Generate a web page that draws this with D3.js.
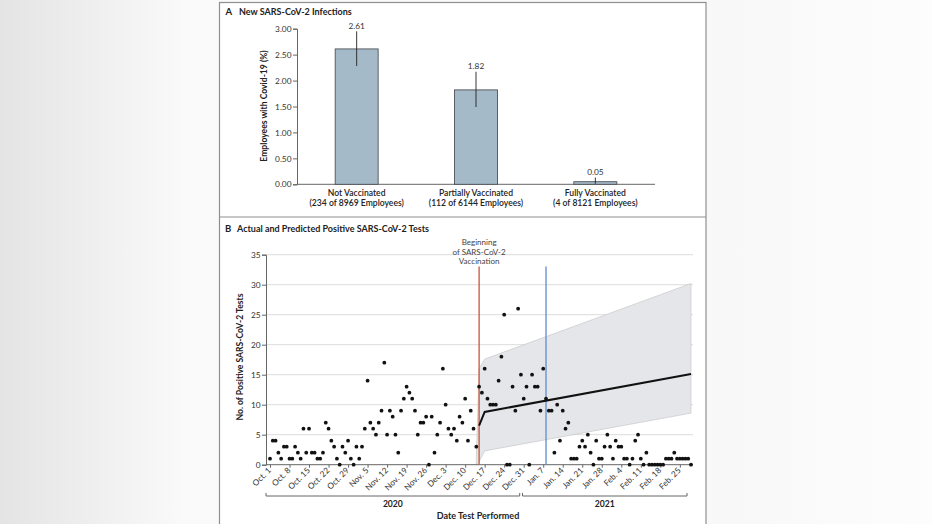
<!DOCTYPE html>
<html>
<head>
<meta charset="utf-8">
<script src="https://cdn.jsdelivr.net/npm/d3@7"></script>
<style>
  html, body { margin: 0; padding: 0; background: #fff; }
  svg { display: block; font-family: Lato, "Open Sans", sans-serif; }
</style>
</head>
<body>
<script>
// panel A
var categories = ["Not Vaccinated", "Partially Vaccinated", "Fully Vaccinated"];
var subLabels = ["(234 of 8969 Employees)", "(112 of 6144 Employees)", "(4 of 8121 Employees)"];
var rates = [2.61, 1.82, 0.05];
var ciLow = [2.28, 1.49, 0.01];
var ciHigh = [2.95, 2.17, 0.13];
var rateTicks = [0, 0.5, 1, 1.5, 2, 2.5, 3];

// panel B, one count per day from Oct. 1, 2020
var startDate = "2020-10-01";
var dailyPositives = [
  1, 4, 4, 2, 1, 3, 3, 1, 1, 3, 2, 1, 6, 2, 6, 2, 2, 1, 1, 2,
  7, 6, 4, 3, 1, 0, 3, 2, 4, 1, 0, 3, 1, 3, 6, 14, 7, 6, 5, 7,
  9, 17, 5, 9, 8, 5, 2, 9, 11, 13, 12, 11, 9, 5, 7, 7, 8, 0, 8, 2,
  5, 7, 16, 10, 6, 5, 6, 4, 8, 7, 11, 4, 9, 6, 3, 13, 12, 16, 11, 10,
  10, 10, 14, 18, 25, 0, 0, 13, 9, 26, 15, 11, 13, 0, 15, 13, 13, 9, 16, 11,
  9, 9, 2, 10, 4, 9, 6, 7, 1, 1, 1, 3, 4, 3, 5, 2, 0, 4, 1, 1,
  3, 5, 3, 1, 4, 3, 3, 1, 1, 0, 1, 4, 5, 1, 0, 2, 0, 0, 0, 0,
  0, 0, 1, 1, 1, 2, 1, 1, 1, 1, 1, 0
];
var countTicks = [0, 5, 10, 15, 20, 25, 30, 35];
var dateTicks = ["2020-10-01", "2020-10-08", "2020-10-15", "2020-10-22", "2020-10-29",
  "2020-11-05", "2020-11-12", "2020-11-19", "2020-11-26", "2020-12-03", "2020-12-10",
  "2020-12-17", "2020-12-24", "2020-12-31", "2021-01-07", "2021-01-14", "2021-01-21",
  "2021-01-28", "2021-02-04", "2021-02-11", "2021-02-18", "2021-02-25"];
var dateTickLabels = ["Oct. 1", "Oct. 8", "Oct. 15", "Oct. 22", "Oct. 29", "Nov. 5",
  "Nov. 12", "Nov. 19", "Nov. 26", "Dec. 3", "Dec. 10", "Dec. 17", "Dec. 24", "Dec. 31",
  "Jan. 7", "Jan. 14", "Jan. 21", "Jan. 28", "Feb. 4", "Feb. 11", "Feb. 18", "Feb. 25"];
var vaccStart = "2020-12-15";
var fullVaccDate = "2021-01-08";
var predDates = ["2020-12-15", "2020-12-17", "2021-03-01"];
var predicted = [6.5, 8.8, 15.1];
var bandDates = ["2020-12-14", "2020-12-15", "2020-12-17", "2021-03-01"];
var bandLow = [0, 0.5, 2.3, 8.6];
var bandHigh = [1, 16, 17.6, 30.2];
var years = ["2020", "2021"];
var yearSpans = [["2020-10-01", "2020-12-31"], ["2021-01-01", "2021-03-01"]];

var W = 932, H = 524;
var parse = d3.utcParse("%Y-%m-%d");

var svg = d3.select("body").append("svg")
  .attr("width", W)
  .attr("height", H);

// soft grey page behind the figure
var grad = svg.append("defs").append("linearGradient")
  .attr("id", "bg").attr("x1", 0).attr("x2", 1).attr("y1", 0).attr("y2", 0);
grad.append("stop").attr("offset", "0%").attr("stop-color", "#e4e4e4");
grad.append("stop").attr("offset", "20%").attr("stop-color", "#fafafa");
grad.append("stop").attr("offset", "78%").attr("stop-color", "#f8f8f8");
grad.append("stop").attr("offset", "100%").attr("stop-color", "#fdfdfd");
svg.append("rect").attr("width", W).attr("height", H).attr("fill", "url(#bg)");

// figure frame
svg.append("rect")
  .attr("x", 219.5).attr("y", 2.5)
  .attr("width", 486.5).attr("height", 540)
  .attr("fill", "#fff").attr("stroke", "#8f8f8f").attr("stroke-width", 1.2);
svg.append("line")
  .attr("x1", 219.5).attr("x2", 706).attr("y1", 217).attr("y2", 217)
  .attr("stroke", "#8f8f8f").attr("stroke-width", 1.2);

// ---------- panel A ----------
var gA = svg.append("g");
gA.append("text").attr("x", 225.5).attr("y", 15)
  .attr("font-size", 9.5).attr("font-weight", 700).attr("fill", "#222").text("A");
gA.append("text").attr("x", 239).attr("y", 15)
  .attr("font-size", 9).attr("font-weight", 700).attr("fill", "#222")
  .text("New SARS-CoV-2 Infections");

var xA = d3.scaleBand().domain(categories).range([297, 655])
  .paddingInner(0.64).paddingOuter(0.32);
var yA = d3.scaleLinear().domain([0, 3]).range([184.3, 28.7]);

var axA = gA.append("g").attr("transform", "translate(297,0)")
  .call(d3.axisLeft(yA).tickValues(rateTicks).tickFormat(d3.format(".2f")).tickSize(4).tickPadding(1.5));
axA.select(".domain").attr("stroke", "#666");
axA.selectAll(".tick line").attr("stroke", "#666");
axA.selectAll(".tick text").attr("font-size", 8.3).attr("fill", "#333")
  .attr("font-family", "Lato, sans-serif");

gA.append("line").attr("x1", 297).attr("x2", 655)
  .attr("y1", yA(0)).attr("y2", yA(0)).attr("stroke", "#666");

gA.selectAll("rect.bar").data(rates).enter().append("rect")
  .attr("class", "bar")
  .attr("x", function(d, i) { return xA(categories[i]); })
  .attr("y", function(d) { return yA(d); })
  .attr("width", xA.bandwidth())
  .attr("height", function(d) { return yA(0) - yA(d); })
  .attr("fill", "#a5bac8")
  .attr("stroke", "#4d5257").attr("stroke-width", 0.9);

gA.selectAll("line.err").data(rates).enter().append("line")
  .attr("class", "err")
  .attr("x1", function(d, i) { return xA(categories[i]) + xA.bandwidth() / 2; })
  .attr("x2", function(d, i) { return xA(categories[i]) + xA.bandwidth() / 2; })
  .attr("y1", function(d, i) { return yA(ciLow[i]); })
  .attr("y2", function(d, i) { return yA(ciHigh[i]); })
  .attr("stroke", "#222").attr("stroke-width", 0.9);

gA.selectAll("text.val").data(rates).enter().append("text")
  .attr("class", "val")
  .attr("x", function(d, i) { return xA(categories[i]) + xA.bandwidth() / 2; })
  .attr("y", function(d, i) { return yA(ciHigh[i]) - 2.5; })
  .attr("text-anchor", "middle").attr("font-size", 8.3).attr("fill", "#333")
  .text(function(d) { return d3.format(".2f")(d); });

categories.forEach(function(c, i) {
  var cx = xA(c) + xA.bandwidth() / 2;
  gA.append("text").attr("x", cx).attr("y", 195.5)
    .attr("text-anchor", "middle").attr("font-size", 8.6).attr("font-weight", 600)
    .attr("fill", "#222").text(c);
  gA.append("text").attr("x", cx).attr("y", 205.8)
    .attr("text-anchor", "middle").attr("font-size", 8.6).attr("font-weight", 600)
    .attr("fill", "#222").text(subLabels[i]);
});

gA.append("text")
  .attr("transform", "translate(267,106) rotate(-90)")
  .attr("text-anchor", "middle").attr("font-size", 8.6).attr("font-weight", 700)
  .attr("fill", "#222").text("Employees with Covid-19 (%)");

// ---------- panel B ----------
var gB = svg.append("g");
gB.append("text").attr("x", 225).attr("y", 232)
  .attr("font-size", 9.5).attr("font-weight", 700).attr("fill", "#222").text("B");
gB.append("text").attr("x", 237).attr("y", 232)
  .attr("font-size", 9).attr("font-weight", 700).attr("fill", "#222")
  .text("Actual and Predicted Positive SARS-CoV-2 Tests");

var x0 = parse(startDate);
var xB = d3.scaleUtc().domain([x0, parse("2021-03-01")]).range([270, 691]);
var yB = d3.scaleLinear().domain([0, 35]).range([464.7, 254.7]);

gB.selectAll("line.grid").data(countTicks.slice(1)).enter().append("line")
  .attr("class", "grid")
  .attr("x1", 266).attr("x2", 693)
  .attr("y1", function(d) { return yB(d); })
  .attr("y2", function(d) { return yB(d); })
  .attr("stroke", "#dcdcdc").attr("stroke-width", 1);

// prediction interval
var bandPts = bandDates.map(function(d, i) { return [xB(parse(d)), yB(bandHigh[i])]; })
  .concat(bandDates.map(function(d, i) { return [xB(parse(d)), yB(bandLow[i])]; }).reverse());
gB.append("path")
  .attr("d", d3.line()(bandPts) + "Z")
  .attr("fill", "#e5e6e9").attr("stroke", "#c8c9cc").attr("stroke-width", 0.7);

var ayB = gB.append("g").attr("transform", "translate(266,0)")
  .call(d3.axisLeft(yB).tickValues(countTicks).tickSize(4).tickPadding(1.5));
ayB.select(".domain").attr("stroke", "#666");
ayB.selectAll(".tick line").attr("stroke", "#666");
ayB.selectAll(".tick text").attr("font-size", 8.3).attr("fill", "#333")
  .attr("font-family", "Lato, sans-serif");

var axB = gB.append("g").attr("transform", "translate(0,464.7)")
  .call(d3.axisBottom(xB).tickValues(dateTicks.map(parse)).tickSize(3).tickFormat(""));
axB.select(".domain").attr("stroke", "#666").attr("d", "M266,0H693");
axB.selectAll(".tick line").attr("stroke", "#666");

gB.selectAll("text.dlab").data(dateTicks).enter().append("text")
  .attr("class", "dlab")
  .attr("transform", function(d) { return "translate(" + (xB(parse(d)) + 1.5) + ",471) rotate(-45)"; })
  .attr("text-anchor", "end").attr("font-size", 8.2).attr("fill", "#333")
  .text(function(d, i) { return dateTickLabels[i]; });

// vaccination markers
gB.append("line")
  .attr("x1", xB(parse(vaccStart))).attr("x2", xB(parse(vaccStart)))
  .attr("y1", 266.5).attr("y2", yB(0))
  .attr("stroke", "#c8553b").attr("stroke-width", 1.3);
gB.append("line")
  .attr("x1", xB(parse(fullVaccDate))).attr("x2", xB(parse(fullVaccDate)))
  .attr("y1", 266.5).attr("y2", yB(0))
  .attr("stroke", "#5f8cc9").attr("stroke-width", 1.3);

["Beginning", "of SARS-CoV-2", "Vaccination"].forEach(function(t, i) {
  gB.append("text").attr("x", xB(parse(vaccStart)))
    .attr("y", 245 + i * 9.6)
    .attr("text-anchor", "middle").attr("font-size", 8).attr("fill", "#444").text(t);
});

// daily positives
gB.selectAll("circle.pt").data(dailyPositives).enter().append("circle")
  .attr("class", "pt")
  .attr("cx", function(d, i) { return xB(d3.utcDay.offset(x0, i)); })
  .attr("cy", function(d) { return yB(d); })
  .attr("r", 1.9)
  .attr("fill", "#111");

// predicted line
gB.append("path")
  .attr("d", d3.line()(predDates.map(function(d, i) { return [xB(parse(d)), yB(predicted[i])]; })))
  .attr("fill", "none").attr("stroke", "#111").attr("stroke-width", 2);

// year brackets
yearSpans.forEach(function(s, i) {
  var a = xB(parse(s[0])) - 4, b = xB(parse(s[1])) - 4, yy = 496;
  gB.append("path")
    .attr("d", "M" + a + "," + (yy - 3) + "V" + yy + "H" + b + "V" + (yy - 3))
    .attr("fill", "none").attr("stroke", "#666").attr("stroke-width", 1);
  gB.append("text").attr("x", (a + b) / 2).attr("y", 507)
    .attr("text-anchor", "middle").attr("font-size", 8.6).attr("font-weight", 700)
    .attr("fill", "#222").text(years[i]);
});

gB.append("text").attr("x", 478).attr("y", 519)
  .attr("text-anchor", "middle").attr("font-size", 9).attr("font-weight", 700)
  .attr("fill", "#222").text("Date Test Performed");

gB.append("text")
  .attr("transform", "translate(243,357) rotate(-90)")
  .attr("text-anchor", "middle").attr("font-size", 8.6).attr("font-weight", 700)
  .attr("fill", "#222").text("No. of Positive SARS-CoV-2 Tests");
</script>
</body>
</html>
